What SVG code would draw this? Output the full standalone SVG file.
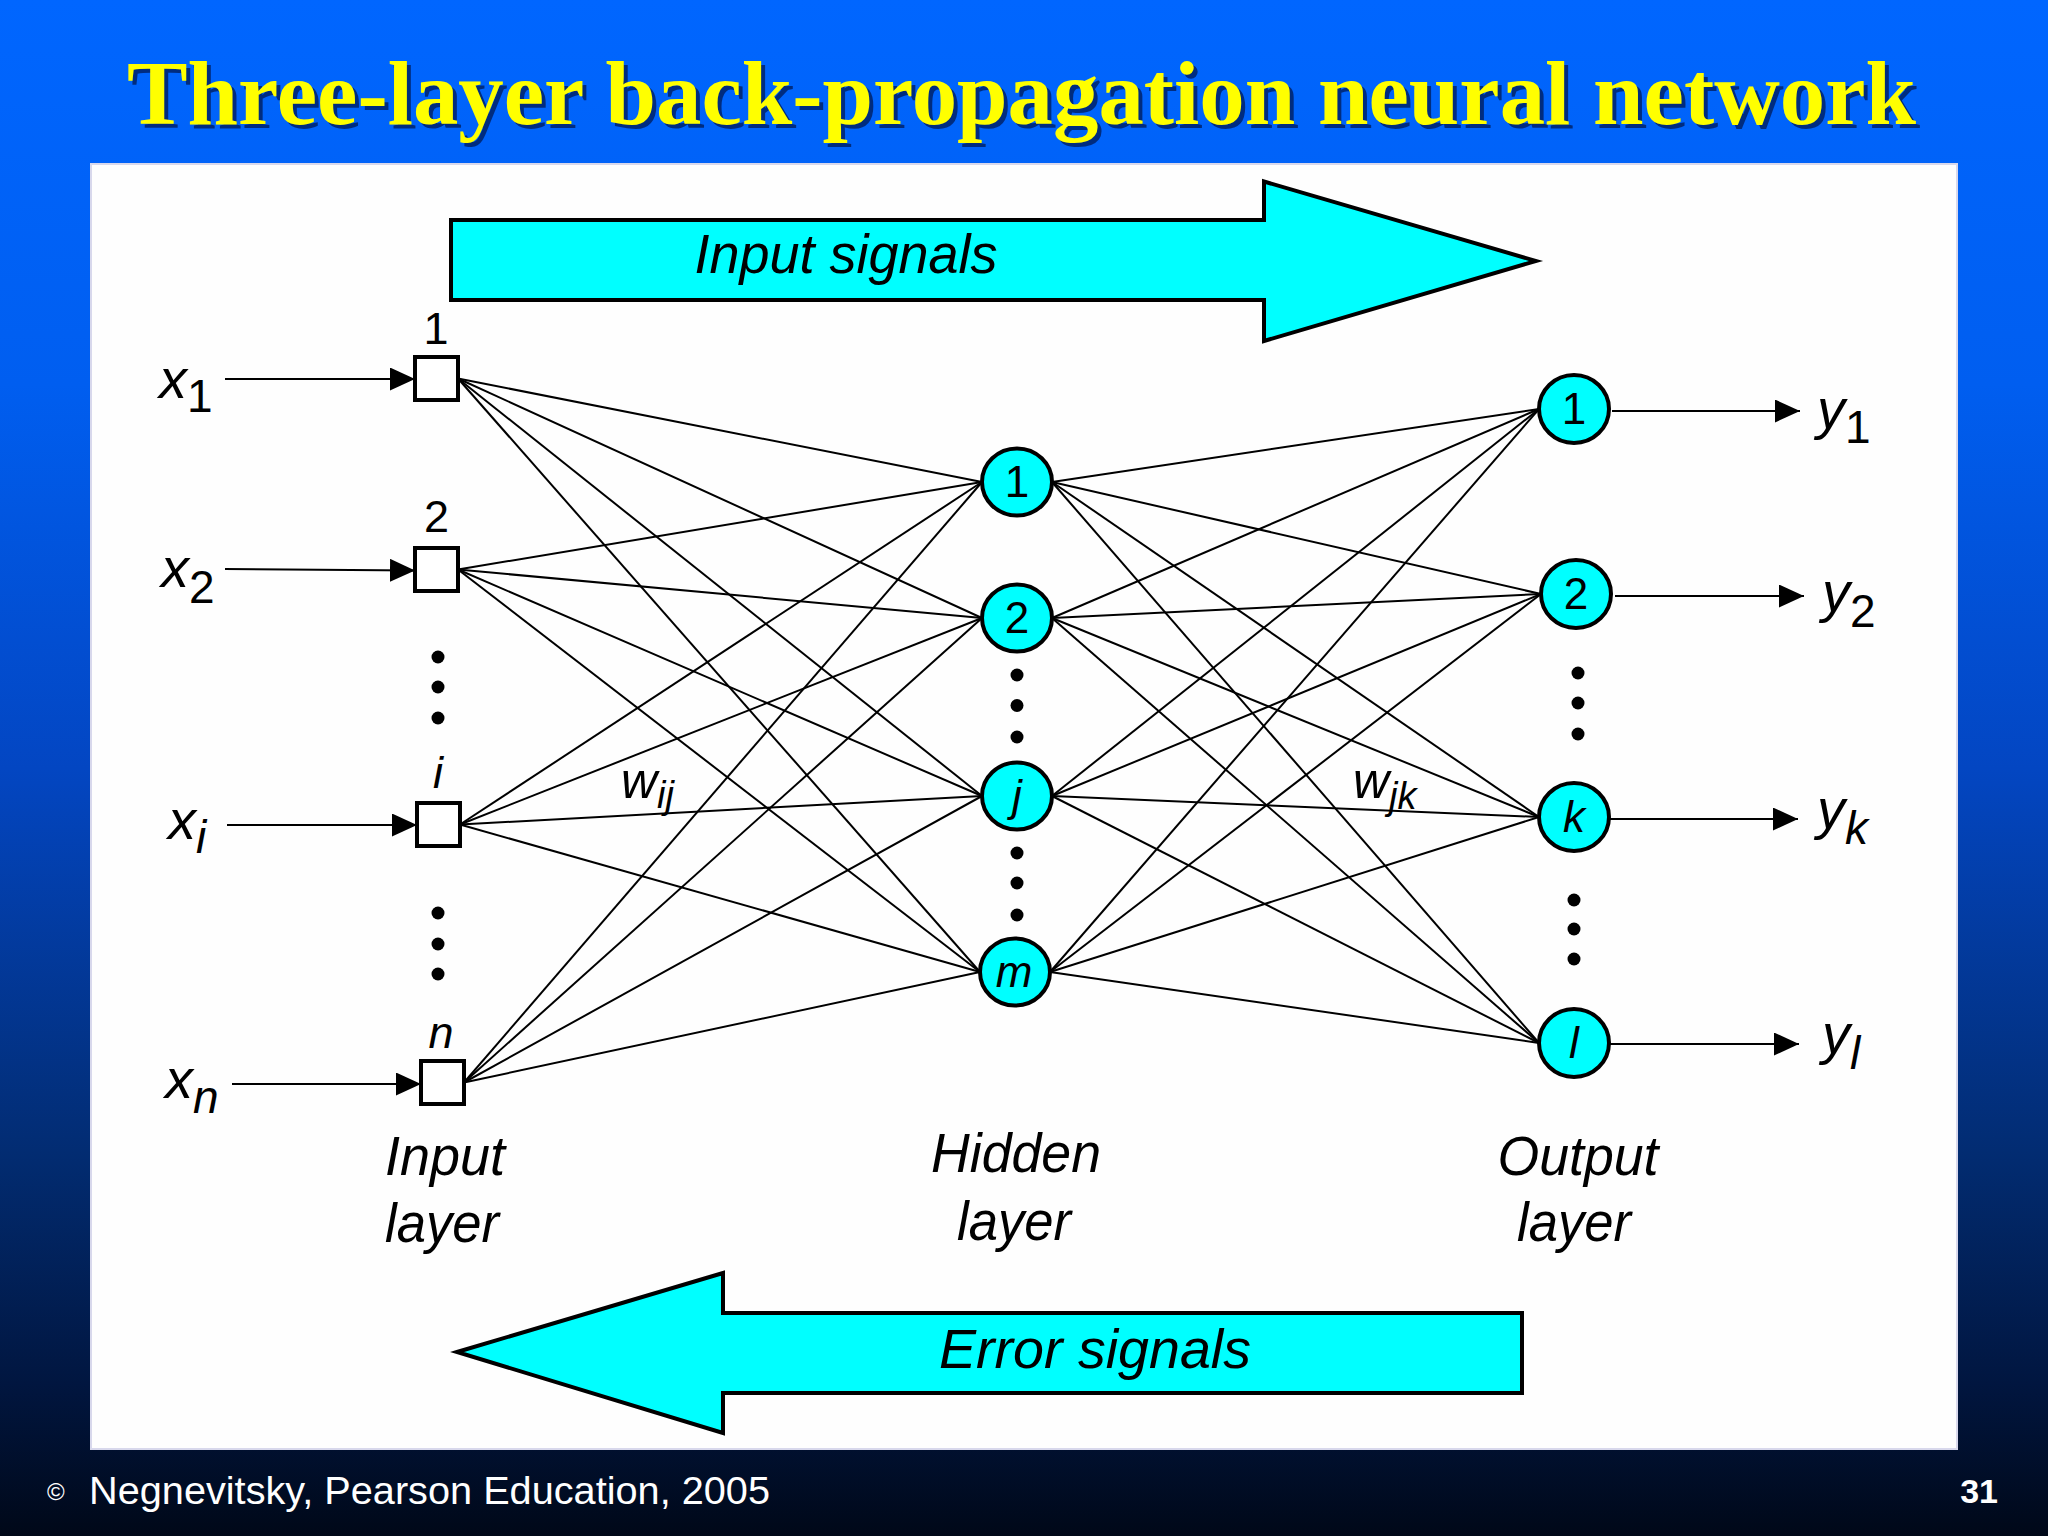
<svg xmlns="http://www.w3.org/2000/svg" width="2048" height="1536" viewBox="0 0 2048 1536">
<defs>
<linearGradient id="bg" x1="0" y1="0" x2="0" y2="1">
<stop offset="0" stop-color="#0066ff"/>
<stop offset="0.25" stop-color="#005ef0"/>
<stop offset="0.5" stop-color="#0346c2"/>
<stop offset="0.75" stop-color="#022c72"/>
<stop offset="0.9" stop-color="#011640"/>
<stop offset="1" stop-color="#000818"/>
</linearGradient>
<marker id="ah" markerUnits="userSpaceOnUse" markerWidth="26" markerHeight="24" refX="25" refY="11.5" orient="auto">
<path d="M0,0 L25,11.5 L0,23 z" fill="#000"/>
</marker>
<style>
.t{font-family:"Liberation Sans",Arial,sans-serif;fill:#000}
.it{font-style:italic}
.box{fill:#fff;stroke:#000;stroke-width:4}
.nd{fill:#00ffff;stroke:#000;stroke-width:4}
.dot{fill:#000}
.big{fill:#00ffff;stroke:#000;stroke-width:4;stroke-linejoin:miter}
.cn line{stroke:#000;stroke-width:2}
.io{stroke:#000;stroke-width:2.5;marker-end:url(#ah)}
.nl{font-size:44px;text-anchor:middle}
</style>
</defs>
<rect x="0" y="0" width="2048" height="1536" fill="url(#bg)"/>
<g id="title">
<text x="131" y="128" font-family="'Liberation Serif','Times New Roman',serif" font-weight="bold" font-size="92" fill="#001a55" fill-opacity="0.75" textLength="1789" lengthAdjust="spacingAndGlyphs">Three-layer back-propagation neural network</text>
<text x="127" y="124" font-family="'Liberation Serif','Times New Roman',serif" font-weight="bold" font-size="92" fill="#ffff00" textLength="1789" lengthAdjust="spacingAndGlyphs">Three-layer back-propagation neural network</text>
</g>
<rect x="91" y="164" width="1866" height="1285" fill="#fefefe" stroke="#d8d8ec" stroke-width="2"/>

<g id="input-signals">
<polygon class="big" points="451,220 1264,220 1264,181.5 1536,261 1264,341 1264,300 451,300"/>
<text class="t it" x="846" y="273" font-size="55" text-anchor="middle" textLength="303" lengthAdjust="spacingAndGlyphs">Input signals</text>
</g>
<g id="error-signals">
<polygon class="big" points="457,1352 723,1273 723,1313 1522,1313 1522,1393 723,1393 723,1433"/>
<text class="t it" x="1095" y="1368" font-size="55" text-anchor="middle" textLength="312" lengthAdjust="spacingAndGlyphs">Error signals</text>
</g>

<g id="connectors" class="cn">
<line x1="458" y1="378.5" x2="982" y2="482"/>
<line x1="458" y1="378.5" x2="982" y2="618"/>
<line x1="458" y1="378.5" x2="982" y2="796"/>
<line x1="458" y1="378.5" x2="980" y2="972"/>
<line x1="458" y1="569.5" x2="982" y2="482"/>
<line x1="458" y1="569.5" x2="982" y2="618"/>
<line x1="458" y1="569.5" x2="982" y2="796"/>
<line x1="458" y1="569.5" x2="980" y2="972"/>
<line x1="460" y1="824.5" x2="982" y2="482"/>
<line x1="460" y1="824.5" x2="982" y2="618"/>
<line x1="460" y1="824.5" x2="982" y2="796"/>
<line x1="460" y1="824.5" x2="980" y2="972"/>
<line x1="464" y1="1082.5" x2="982" y2="482"/>
<line x1="464" y1="1082.5" x2="982" y2="618"/>
<line x1="464" y1="1082.5" x2="982" y2="796"/>
<line x1="464" y1="1082.5" x2="980" y2="972"/>
<line x1="1052" y1="482" x2="1539" y2="409"/>
<line x1="1052" y1="482" x2="1541" y2="594"/>
<line x1="1052" y1="482" x2="1539" y2="817"/>
<line x1="1052" y1="482" x2="1539" y2="1043"/>
<line x1="1052" y1="618" x2="1539" y2="409"/>
<line x1="1052" y1="618" x2="1541" y2="594"/>
<line x1="1052" y1="618" x2="1539" y2="817"/>
<line x1="1052" y1="618" x2="1539" y2="1043"/>
<line x1="1052" y1="796" x2="1539" y2="409"/>
<line x1="1052" y1="796" x2="1541" y2="594"/>
<line x1="1052" y1="796" x2="1539" y2="817"/>
<line x1="1052" y1="796" x2="1539" y2="1043"/>
<line x1="1050" y1="972" x2="1539" y2="409"/>
<line x1="1050" y1="972" x2="1541" y2="594"/>
<line x1="1050" y1="972" x2="1539" y2="817"/>
<line x1="1050" y1="972" x2="1539" y2="1043"/>
<line class="io" x1="225" y1="379" x2="415" y2="379"/>
<line class="io" x1="225" y1="569" x2="415" y2="570.5"/>
<line class="io" x1="227" y1="825" x2="417" y2="825"/>
<line class="io" x1="232" y1="1084" x2="421" y2="1084"/>
<line class="io" x1="1612" y1="411" x2="1800" y2="411"/>
<line class="io" x1="1615" y1="596" x2="1804" y2="596"/>
<line class="io" x1="1610" y1="819" x2="1798" y2="819"/>
<line class="io" x1="1609" y1="1044" x2="1799" y2="1044"/>
</g>

<g id="input-1">
<rect class="box" x="415" y="357" width="43" height="43"/>
<text class="t" x="436" y="344" font-size="45" text-anchor="middle">1</text>
<text class="t it" x="159" y="398" font-size="56">x<tspan class="t" font-style="normal" font-size="46" dy="14">1</tspan></text>
</g>
<g id="input-2">
<rect class="box" x="415" y="548" width="43" height="43"/>
<text class="t" x="436.5" y="532" font-size="45" text-anchor="middle">2</text>
<text class="t it" x="161" y="587" font-size="56">x<tspan class="t" font-style="normal" font-size="46" dy="16">2</tspan></text>
</g>
<g id="input-dots">
<circle class="dot" cx="438" cy="657" r="6.5"/>
<circle class="dot" cx="438" cy="687" r="6.5"/>
<circle class="dot" cx="438" cy="718" r="6.5"/>
<circle class="dot" cx="438" cy="913" r="6.5"/>
<circle class="dot" cx="438" cy="944" r="6.5"/>
<circle class="dot" cx="438" cy="974" r="6.5"/>
</g>
<g id="input-i">
<rect class="box" x="417" y="803" width="43" height="43"/>
<text class="t it" x="438" y="788" font-size="45" text-anchor="middle">i</text>
<text class="t it" x="168" y="839" font-size="56">x<tspan font-size="46" dy="14">i</tspan></text>
</g>
<g id="input-n">
<rect class="box" x="421" y="1061" width="43" height="43"/>
<text class="t it" x="441" y="1048" font-size="45" text-anchor="middle">n</text>
<text class="t it" x="165" y="1098" font-size="56">x<tspan font-size="46" dy="15">n</tspan></text>
</g>

<g id="hidden-1">
<ellipse class="nd" cx="1017" cy="482" rx="35" ry="33.5"/>
<text class="t nl" x="1017" y="497">1</text>
</g>
<g id="hidden-2">
<ellipse class="nd" cx="1017" cy="618" rx="35" ry="33.5"/>
<text class="t nl" x="1017" y="633">2</text>
</g>
<g id="hidden-dots">
<circle class="dot" cx="1017" cy="675" r="6.5"/>
<circle class="dot" cx="1017" cy="705.5" r="6.5"/>
<circle class="dot" cx="1017" cy="737" r="6.5"/>
<circle class="dot" cx="1017" cy="853" r="6.5"/>
<circle class="dot" cx="1017" cy="883" r="6.5"/>
<circle class="dot" cx="1017" cy="915" r="6.5"/>
</g>
<g id="hidden-j">
<ellipse class="nd" cx="1017" cy="796" rx="35" ry="33.5"/>
<text class="t nl it" x="1017" y="811">j</text>
</g>
<g id="hidden-m">
<ellipse class="nd" cx="1015" cy="972" rx="35" ry="33.5"/>
<text class="t nl it" x="1014" y="987">m</text>
</g>

<g id="output-1">
<ellipse class="nd" cx="1574" cy="409" rx="35" ry="34"/>
<text class="t nl" x="1574" y="424">1</text>
<text class="t it" x="1817" y="428" font-size="56">y<tspan class="t" font-style="normal" font-size="46" dy="15">1</tspan></text>
</g>
<g id="output-2">
<ellipse class="nd" cx="1576" cy="594" rx="35" ry="34"/>
<text class="t nl" x="1576" y="609">2</text>
<text class="t it" x="1822" y="611" font-size="56">y<tspan class="t" font-style="normal" font-size="46" dy="16">2</tspan></text>
</g>
<g id="output-dots">
<circle class="dot" cx="1578" cy="673" r="6.5"/>
<circle class="dot" cx="1578" cy="703" r="6.5"/>
<circle class="dot" cx="1578" cy="734" r="6.5"/>
<circle class="dot" cx="1574" cy="900" r="6.5"/>
<circle class="dot" cx="1574" cy="929" r="6.5"/>
<circle class="dot" cx="1574" cy="959" r="6.5"/>
</g>
<g id="output-k">
<ellipse class="nd" cx="1574" cy="817" rx="35" ry="34"/>
<text class="t nl it" x="1574" y="832">k</text>
<text class="t it" x="1817" y="828" font-size="56">y<tspan font-size="46" dy="16">k</tspan></text>
</g>
<g id="output-l">
<ellipse class="nd" cx="1574" cy="1043" rx="35" ry="34"/>
<text class="t nl it" x="1574" y="1058">l</text>
<text class="t it" x="1822" y="1053" font-size="56">y<tspan font-size="46" dy="16">l</tspan></text>
</g>

<g id="weights">
<text class="t it" x="621" y="798" font-size="50">w<tspan font-size="38" dy="10">ij</tspan></text>
<text class="t it" x="1353" y="798" font-size="50">w<tspan font-size="38" dy="11">jk</tspan></text>
</g>

<g id="layer-labels">
<text class="t it" x="445" y="1175" font-size="55" text-anchor="middle" textLength="120" lengthAdjust="spacingAndGlyphs">Input</text>
<text class="t it" x="442" y="1242" font-size="55" text-anchor="middle" textLength="114" lengthAdjust="spacingAndGlyphs">layer</text>
<text class="t it" x="1016" y="1172" font-size="55" text-anchor="middle" textLength="170" lengthAdjust="spacingAndGlyphs">Hidden</text>
<text class="t it" x="1014" y="1240" font-size="55" text-anchor="middle" textLength="114" lengthAdjust="spacingAndGlyphs">layer</text>
<text class="t it" x="1578" y="1175" font-size="55" text-anchor="middle" textLength="161" lengthAdjust="spacingAndGlyphs">Output</text>
<text class="t it" x="1574" y="1241" font-size="55" text-anchor="middle" textLength="114" lengthAdjust="spacingAndGlyphs">layer</text>
</g>

<g id="footer">
<text x="47" y="1500" font-family="'Liberation Sans',Arial,sans-serif" font-size="24" fill="#ffffff">©</text>
<text x="89" y="1504" font-family="'Liberation Sans',Arial,sans-serif" font-size="38" fill="#ffffff" textLength="681" lengthAdjust="spacingAndGlyphs">Negnevitsky, Pearson Education, 2005</text>
<text x="1998" y="1503" font-family="'Liberation Sans',Arial,sans-serif" font-size="34" font-weight="bold" fill="#ffffff" text-anchor="end">31</text>
</g>
</svg>
